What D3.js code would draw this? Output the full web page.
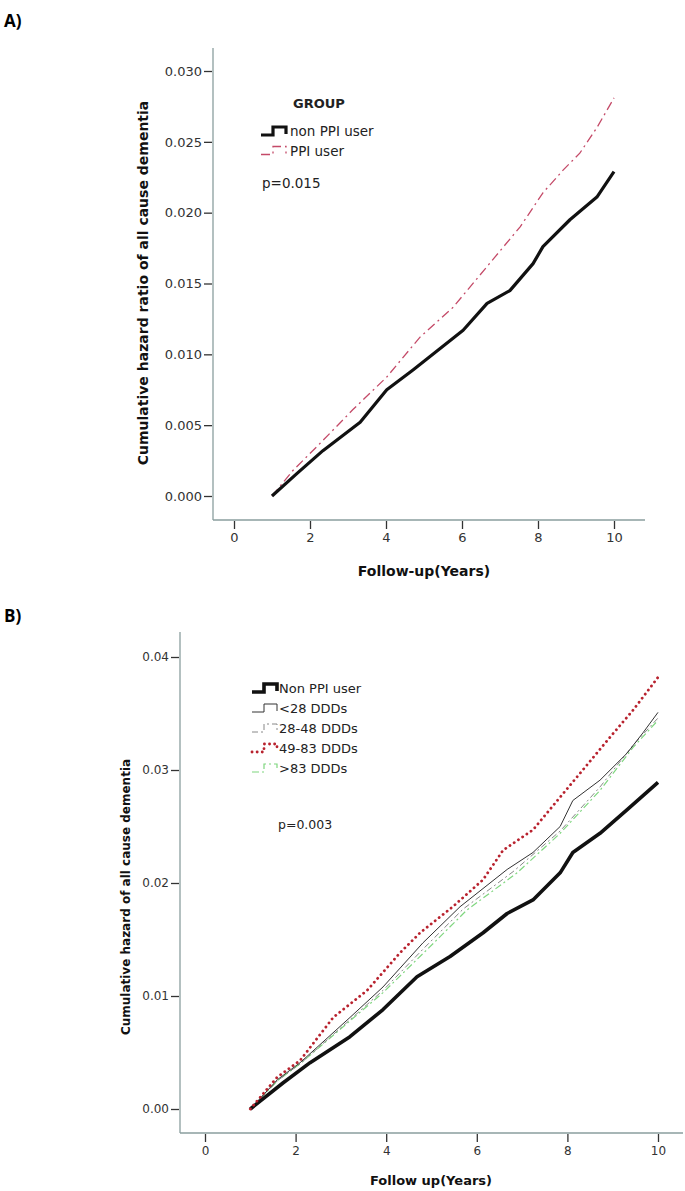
<!DOCTYPE html>
<html>
<head>
<meta charset="utf-8">
<script src="https://cdn.jsdelivr.net/npm/d3@7"></script>
<style>
  body { margin: 0; background: #fff; }
  svg { display: block; }
  .tick text { font-family: "DejaVu Sans", sans-serif; fill: #333; }
  .title { font-family: "DejaVu Sans", sans-serif; font-weight: bold; fill: #111; }
  .group { font-family: "Liberation Sans", Arial, sans-serif; font-weight: bold; fill: #111; }
  .panel-label { font-family: "Open Sans", sans-serif; font-weight: bold; font-size: 17px; fill: #000; }
  .legend text { font-family: "DejaVu Sans", sans-serif; fill: #222; }
</style>
</head>
<body>
<div id="chart"></div>
<script>
// panel A: cumulative hazard ratio, [year, value]
var nonPpiA = [[1,0],[1.66,0.0016],[2.34,0.0032],[3.32,0.0052],[4.02,0.0075],[4.71,0.0089],[6.03,0.0117],[6.66,0.0136],[7.26,0.0145],[7.87,0.0164],[8.13,0.0176],[8.84,0.0195],[9.55,0.0211],[10,0.0229]];
var ppiA = [[1,0],[1.55,0.0018],[2.26,0.0037],[3.13,0.0061],[4.02,0.0084],[4.89,0.0112],[5.76,0.0133],[6.66,0.0162],[7.53,0.019],[8.13,0.0214],[8.66,0.023],[9.1,0.0242],[9.55,0.026],[10,0.0281]];

// panel B: cumulative hazard by DDD group
var nonPpiB = [[1,0],[1.72,0.0023],[2.32,0.0041],[3.2,0.0064],[3.93,0.0088],[4.68,0.0117],[5.41,0.0135],[6.14,0.0156],[6.67,0.0173],[7.24,0.0185],[7.84,0.0209],[8.12,0.0227],[8.72,0.0244],[9.32,0.0265],[10,0.0289]];
var lt28 = [[1,0],[1.6,0.0026],[2.1,0.0041],[3.2,0.0081],[3.93,0.0108],[4.81,0.0147],[5.63,0.0179],[6.67,0.0212],[7.24,0.0227],[7.84,0.025],[8.12,0.0273],[8.72,0.0291],[9.32,0.0315],[9.67,0.0333],[10,0.0351]];
var d28to48 = [[1,0],[1.6,0.0025],[2.1,0.004],[3.2,0.0079],[3.93,0.0105],[4.85,0.0143],[5.7,0.0177],[6.8,0.021],[7.84,0.0246],[8.72,0.0285],[9.45,0.0322],[10,0.0346]];
var d49to83 = [[1,0],[1.59,0.0028],[2.1,0.0043],[2.83,0.0081],[3.58,0.0105],[4.3,0.0138],[4.75,0.0156],[5.47,0.0179],[6.14,0.0203],[6.58,0.0229],[7.24,0.0247],[7.84,0.0276],[8.34,0.03],[8.94,0.0329],[9.45,0.0353],[10,0.0382]];
var gt83 = [[1,0],[1.6,0.0025],[2.1,0.004],[3.2,0.0078],[3.93,0.0103],[4.9,0.0141],[5.78,0.0176],[6.89,0.0209],[7.84,0.0244],[8.72,0.0282],[9.45,0.032],[10,0.0344]];

var xTicks = [0, 2, 4, 6, 8, 10];
var yTicksA = [0, 0.005, 0.010, 0.015, 0.020, 0.025, 0.030];
var yTicksB = [0, 0.01, 0.02, 0.03, 0.04];

var labelsA = ["non PPI user", "PPI user"];
var labelsB = ["Non PPI user", "<28 DDDs", "28-48 DDDs", "49-83 DDDs", ">83 DDDs"];

var width = 685, height = 1191;
var svg = d3.select("#chart").append("svg")
  .attr("width", width)
  .attr("height", height);

var AXIS_COL = "#8a9e9e";

function drawAxes(g, x, y, o) {
  // axis frame lines (left + bottom)
  g.append("line").attr("x1", o.left).attr("x2", o.left)
    .attr("y1", o.top).attr("y2", o.bottom)
    .attr("stroke", AXIS_COL).attr("stroke-width", 1.3);
  g.append("line").attr("x1", o.left).attr("x2", o.right)
    .attr("y1", o.bottom).attr("y2", o.bottom)
    .attr("stroke", AXIS_COL).attr("stroke-width", 1.3);

  var xa = g.append("g")
    .attr("transform", "translate(0," + (o.bottom + 1) + ")")
    .call(d3.axisBottom(x).tickValues(xTicks).tickFormat(d3.format("d"))
      .tickSize(8).tickPadding(4));
  var ya = g.append("g")
    .attr("transform", "translate(" + (o.left - 1) + ",0)")
    .call(d3.axisLeft(y).tickValues(o.yTicks).tickFormat(d3.format(o.fmt))
      .tickSize(8).tickPadding(2));
  [xa, ya].forEach(function(a) {
    a.select(".domain").remove();
    a.selectAll(".tick line").attr("stroke", "#333").attr("stroke-width", 1.3);
    a.selectAll(".tick text").style("font-size", o.tickFont + "px");
  });
}

function legendSymbol(g, x0, yc, st) {
  var pts = [[0, 4], [12, 4], [12, -4], [25, -4], [25, 3]];
  g.append("path")
    .attr("d", d3.line()(pts.map(function(p) { return [x0 + p[0], yc + p[1]]; })))
    .attr("fill", "none")
    .attr("stroke", st.color)
    .attr("stroke-width", st.width)
    .attr("stroke-dasharray", st.dash || null)
    .attr("stroke-linecap", st.cap || "butt");
}

// ---------- Panel A ----------
var gA = svg.append("g");
var xA = d3.scaleLinear().domain([0, 10]).range([234, 614]);
var yA = d3.scaleLinear().domain([0, 0.03]).range([496, 71]);

gA.append("text").attr("class", "panel-label").attr("x", 4).attr("y", 27).text("A)");

drawAxes(gA, xA, yA, {left: 213, right: 645, top: 48, bottom: 520,
  yTicks: yTicksA, fmt: ".3f", tickFont: 13});

var lineA = d3.line()
  .x(function(d) { return xA(d[0]); }).y(function(d) { return yA(d[1]); });

var stylesA = [
  {color: "#111", width: 3.2},
  {color: "#c44a68", width: 1.3, dash: "9,4,2,4"}
];

gA.append("path").datum(ppiA)
  .attr("d", lineA).attr("fill", "none")
  .attr("stroke", stylesA[1].color).attr("stroke-width", stylesA[1].width)
  .attr("stroke-dasharray", stylesA[1].dash);
gA.append("path").datum(nonPpiA)
  .attr("d", lineA).attr("fill", "none")
  .attr("stroke", stylesA[0].color).attr("stroke-width", stylesA[0].width)
  .attr("stroke-linejoin", "round");

gA.append("text").attr("class", "title")
  .attr("x", 424).attr("y", 576).attr("text-anchor", "middle")
  .style("font-size", "14px").text("Follow-up(Years)");
gA.append("text").attr("class", "title")
  .attr("transform", "translate(148,283) rotate(-90)").attr("text-anchor", "middle")
  .style("font-size", "14px").text("Cumulative hazard ratio of all cause dementia");

var legA = gA.append("g").attr("class", "legend");
legA.append("text").attr("class", "group").attr("x", 293).attr("y", 108)
  .style("font-size", "13px").text("GROUP");
labelsA.forEach(function(lab, i) {
  var yc = 131 + i * 19.5;
  legendSymbol(legA, 261, yc, stylesA[i]);
  legA.append("text").attr("x", 290).attr("y", yc + 5)
    .style("font-size", "13.5px").text(lab);
});
legA.append("text").attr("x", 262).attr("y", 188).style("font-size", "13.5px").text("p=0.015");

// ---------- Panel B ----------
var gB = svg.append("g");
var xB = d3.scaleLinear().domain([0, 10]).range([205, 658]);
var yB = d3.scaleLinear().domain([0, 0.04]).range([1109, 657]);

gB.append("text").attr("class", "panel-label").attr("x", 4).attr("y", 622).text("B)");

drawAxes(gB, xB, yB, {left: 180, right: 683, top: 632, bottom: 1133,
  yTicks: yTicksB, fmt: ".2f", tickFont: 12});

var lineB = d3.line()
  .x(function(d) { return xB(d[0]); }).y(function(d) { return yB(d[1]); });

var stylesB = [
  {color: "#111", width: 3.6},
  {color: "#333", width: 1},
  {color: "#888", width: 1, dash: "6,3,2,3"},
  {color: "#b8222e", width: 2.8, dash: "0.1,5", cap: "round"},
  {color: "#7fd67f", width: 1.2, dash: "7,3,2,3"}
];
var seriesB = [nonPpiB, lt28, d28to48, d49to83, gt83];

[4, 2, 1, 0, 3].forEach(function(i) {
  var st = stylesB[i];
  gB.append("path").datum(seriesB[i])
    .attr("d", lineB).attr("fill", "none")
    .attr("stroke", st.color).attr("stroke-width", st.width)
    .attr("stroke-dasharray", st.dash || null)
    .attr("stroke-linecap", st.cap || "butt")
    .attr("stroke-linejoin", "round");
});

gB.append("text").attr("class", "title")
  .attr("x", 431).attr("y", 1185).attr("text-anchor", "middle")
  .style("font-size", "13px").text("Follow up(Years)");
gB.append("text").attr("class", "title")
  .attr("transform", "translate(130,897) rotate(-90)").attr("text-anchor", "middle")
  .style("font-size", "12px").text("Cumulative hazard of all cause dementia");

var legB = gB.append("g").attr("class", "legend");
labelsB.forEach(function(lab, i) {
  var yc = 688 + i * 20;
  legendSymbol(legB, 252, yc, stylesB[i]);
  legB.append("text").attr("x", 279).attr("y", yc + 5)
    .style("font-size", "13px").text(lab);
});
legB.append("text").attr("x", 278).attr("y", 829).style("font-size", "12.5px").text("p=0.003");
</script>
</body>
</html>
